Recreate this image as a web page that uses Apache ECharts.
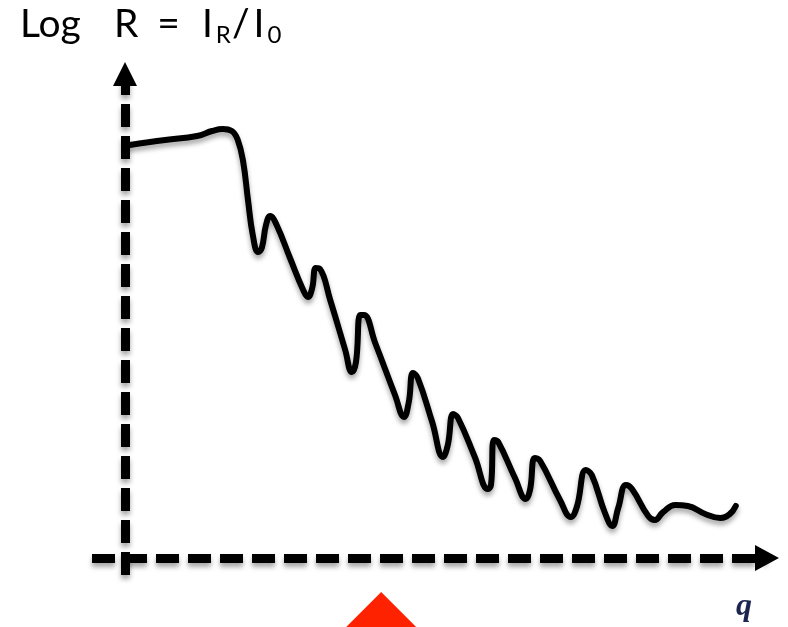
<!DOCTYPE html>
<html>
<head>
<meta charset="utf-8">
<script src="https://cdn.jsdelivr.net/npm/echarts@6/dist/echarts.min.js"></script>
<style>
  html, body { margin: 0; padding: 0; background: #fff; }
  #chart { width: 788px; height: 627px; }
</style>
</head>
<body>
<div id="chart"></div>
<script>
// q (arbitrary units) and log R (arbitrary units)
const qValues = [
  0.8, 6.7, 12, 14.5, 16.3, 17.8, 18.8, 19.7, 20.5, 21.3, 22.2, 22.8, 23.5, 24.2, 25.2,
  27.5, 29.7, 30.5, 31.2, 31.8, 32.5, 34.2, 36.7, 37.8, 38.5, 39.2, 39.8, 41.7, 45,
  46.5, 47.3, 48, 48.8, 51.2, 53, 53.8, 54.7, 55.5, 58.3, 60.5, 61, 61.5, 62.2, 65,
  66.8, 67.5, 68.3, 69.2, 72.5, 74.3, 75.3, 76.8, 77.8, 80, 81.2, 82.2, 83.5, 84.5,
  87.2, 88.3, 89.7, 91.7, 93.8, 96.7, 99.2, 100.8, 101.8
];
const logR = [
  103.25, 104.5, 105.5, 106.75, 107.25, 106.75, 104.5, 99, 89.5, 80.75, 76.5, 77.5, 83.25, 85.5, 83.5,
  75, 67, 65.25, 67.5, 72.5, 72.25, 64.5, 52, 46.5, 49, 60.75, 60.75, 53.75, 40.75,
  35.25, 39, 46.25, 45, 34, 25.25, 28.25, 36, 35, 25.25, 17.25, 18.25, 29.5, 29, 20,
  14.75, 17, 25, 24.25, 14.5, 10.25, 12.75, 22, 20.75, 11.25, 8, 12.5, 18.25, 17.25,
  10.5, 9.5, 11.5, 13.25, 13, 11, 10, 11, 13
];
// red marker below the q axis
const markerQ = [42.7];
const markerY = [-13];

const chart = echarts.init(document.getElementById('chart'));

const axisLineStyle = {
  color: '#000',
  width: 9,
  type: [23, 9],
  cap: 'butt',
  shadowColor: 'rgba(0,0,0,0.35)',
  shadowBlur: 5,
  shadowOffsetY: 4
};

const big = { fontFamily: 'Lato', fontWeight: 'normal', fontSize: 39, color: '#000', lineHeight: 42, verticalAlign: 'top' };
const sub = { fontFamily: 'Lato', fontWeight: 'normal', fontSize: 24, color: '#000', lineHeight: 24, verticalAlign: 'bottom' };
const pad = (base, p) => Object.assign({}, base, { padding: p });

chart.setOption({
  animation: false,
  title: [
    {
      text: '{a|Log}{b|R}{c|=}{d|I}{s|R}{e|/}{f|I}{t|0}',
      left: 15,
      top: 0,
      textStyle: {
        fontWeight: 'normal',
        rich: {
          a: big,
          b: pad(big, [0, 0, 0, 33]),
          c: pad(big, [0, 0, 0, 19]),
          d: pad(big, [0, 0, 0, 22]),
          e: pad(big, [0, 0, 0, 1]),
          f: pad(big, [0, 0, 0, 4]),
          s: pad(sub, [30, 0, 0, 3]),
          t: pad(sub, [30, 0, 0, 3])
        }
      }
    },
    {
      text: 'q',
      left: 731,
      top: 586,
      textStyle: {
        fontFamily: 'Liberation Serif',
        fontStyle: 'italic',
        fontWeight: 'bold',
        fontSize: 32,
        color: '#1c2550'
      }
    }
  ],
  grid: { left: 92, right: 21, top: 74, bottom: 52 },
  xAxis: {
    type: 'value',
    min: -5.5,
    max: 107,
    axisLine: {
      onZero: true,
      symbol: ['none', 'triangle'],
      symbolSize: [26, 24],
      lineStyle: axisLineStyle
    },
    axisTick: { show: false },
    axisLabel: { show: false },
    splitLine: { show: false }
  },
  yAxis: {
    type: 'value',
    min: -4.25,
    max: 121,
    axisLine: {
      onZero: true,
      symbol: ['none', 'triangle'],
      symbolSize: [24, 24],
      lineStyle: axisLineStyle
    },
    axisTick: { show: false },
    axisLabel: { show: false },
    splitLine: { show: false }
  },
  series: [
    {
      type: 'line',
      data: qValues.map((q, i) => [q, logR[i]]),
      smooth: 0.45,
      showSymbol: false,
      lineStyle: {
        color: '#000',
        width: 6,
        cap: 'round',
        join: 'round',
        shadowColor: 'rgba(0,0,0,0.35)',
        shadowBlur: 5,
        shadowOffsetY: 4
      },
      z: 3
    },
    {
      type: 'scatter',
      data: markerQ.map((q, i) => [q, markerY[i]]),
      symbol: 'triangle',
      symbolSize: [72, 36],
      clip: false,
      itemStyle: { color: '#ff2200', opacity: 1 },
      silent: true
    }
  ]
});
</script>
</body>
</html>
